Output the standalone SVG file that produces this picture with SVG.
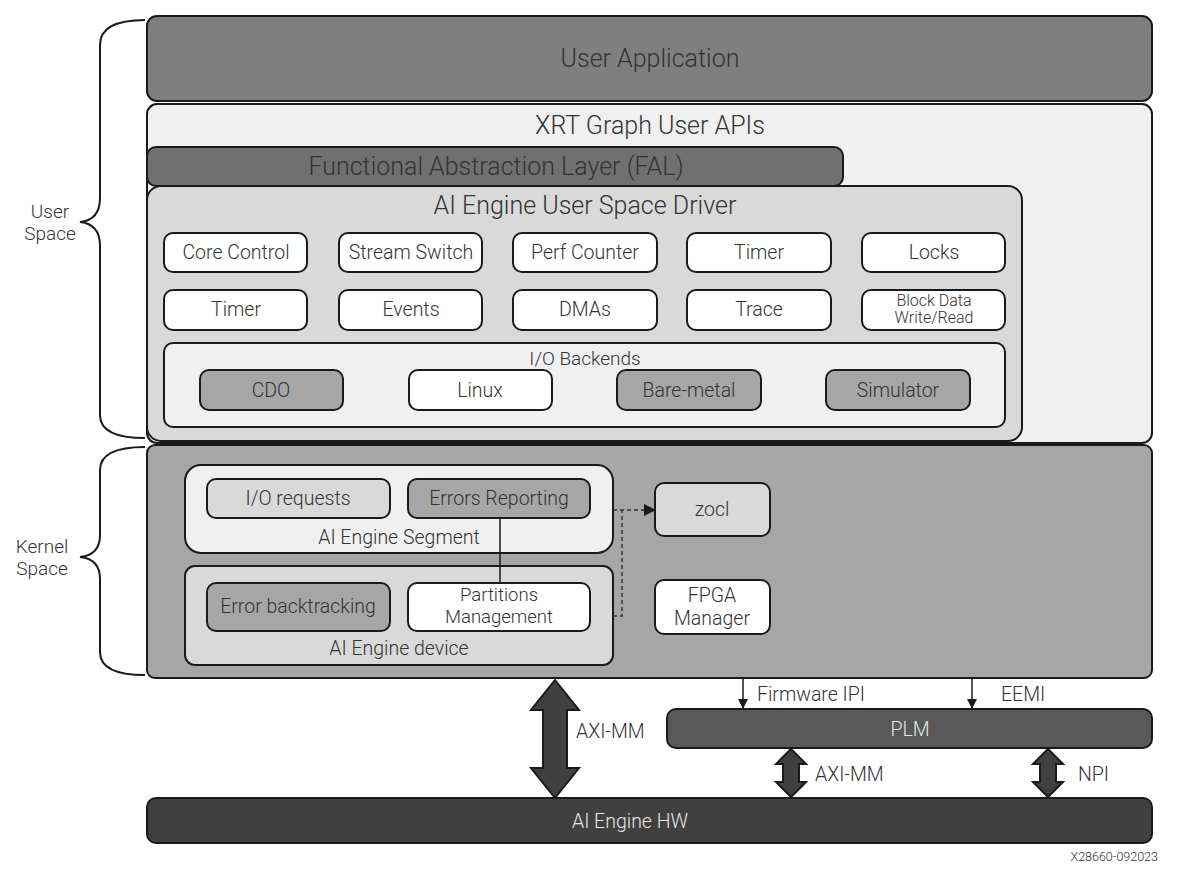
<svg xmlns="http://www.w3.org/2000/svg" width="1191" height="876" viewBox="0 0 1191 876">
<defs>
<style>
text{font-family:Roboto,"Liberation Sans",sans-serif;font-weight:300;fill:#333333;text-anchor:middle;dominant-baseline:central}
.b{stroke:#1a1a1a;stroke-width:2}
.w{fill:#ffffff}
.lg{fill:#d9d9d9}
.vl{fill:#f0f0f0}
.md{fill:#a6a6a6}
.dk{fill:#7f7f7f}
.t22{font-size:25px}
.t17{font-size:19.5px}
.t16{font-size:19px}
.lt{fill:#e6e6e6}
.br{fill:none;stroke:#1a1a1a;stroke-width:2}
</style>
<marker id="ah" markerWidth="10" markerHeight="10" refX="9" refY="5" orient="auto" markerUnits="userSpaceOnUse"><path d="M0,0 L10,5 L0,10 Z" fill="#1a1a1a"/></marker>
<marker id="ahs" markerWidth="12" markerHeight="12" refX="11" refY="6" orient="auto" markerUnits="userSpaceOnUse"><path d="M0,0 L12,6 L0,12 Z" fill="#1a1a1a"/></marker>
</defs>
<rect width="1191" height="876" fill="#ffffff"/>

<g id="braces">
<path class="br" d="M145,20 Q100,20 100,45 L100,198 Q100,220 80,222 Q100,224 100,246 L100,415 Q100,438 145,438"/>
<text x="50" y="222" dy="-11" style="font-size:19px">User</text>
<text x="50" y="222" dy="11" style="font-size:19px">Space</text>
<path class="br" d="M145,447 Q100,447 100,470 L100,535 Q100,555 80,557 Q100,559 100,579 L100,652 Q100,675 145,675"/>
<text x="42" y="557" dy="-11" style="font-size:19px">Kernel</text>
<text x="42" y="557" dy="11" style="font-size:19px">Space</text>
</g>

<g id="user-application"><rect class="b dk" x="147" y="16" width="1005" height="85" rx="10"/><text class="t22" x="650" y="58">User Application</text></g>
<g id="xrt-apis"><rect class="b vl" x="147" y="104" width="1005" height="339" rx="10"/><text class="t22" x="650" y="125">XRT Graph User APIs</text></g>
<g id="fal"><rect class="b" fill="#707070" x="147" y="147" width="696" height="39" rx="9"/><text class="t22" x="496" y="166">Functional Abstraction Layer (FAL)</text></g>
<g id="user-driver"><rect class="b lg" x="147" y="186" width="875" height="255" rx="14"/><text class="t22" x="585" y="205">AI Engine User Space Driver</text></g>

<g id="core-control"><rect class="b w" x="164" y="233" width="143" height="39" rx="9"/><text class="t17" x="236" y="252">Core Control</text></g>
<g id="stream-switch"><rect class="b w" x="339" y="233" width="143" height="39" rx="9"/><text class="t17" x="411" y="252">Stream Switch</text></g>
<g id="perf-counter"><rect class="b w" x="513" y="233" width="144" height="39" rx="9"/><text class="t17" x="585" y="252">Perf Counter</text></g>
<g id="timer1"><rect class="b w" x="687" y="233" width="144" height="39" rx="9"/><text class="t17" x="759" y="252">Timer</text></g>
<g id="locks"><rect class="b w" x="862" y="233" width="143" height="39" rx="9"/><text class="t17" x="934" y="252">Locks</text></g>

<g id="timer2"><rect class="b w" x="164" y="290" width="143" height="40" rx="9"/><text class="t17" x="236" y="309">Timer</text></g>
<g id="events"><rect class="b w" x="339" y="290" width="143" height="40" rx="9"/><text class="t17" x="411" y="309">Events</text></g>
<g id="dmas"><rect class="b w" x="513" y="290" width="144" height="40" rx="9"/><text class="t17" x="585" y="309">DMAs</text></g>
<g id="trace"><rect class="b w" x="687" y="290" width="144" height="40" rx="9"/><text class="t17" x="759" y="309">Trace</text></g>
<g id="block-data"><rect class="b w" x="862" y="290" width="143" height="40" rx="9"/><text x="934" y="300" style="font-size:16px">Block Data</text><text x="934" y="317" style="font-size:16px">Write/Read</text></g>

<g id="io-backends"><rect class="b vl" x="164" y="343" width="841" height="84" rx="9"/><text class="t16" x="585" y="358">I/O Backends</text></g>
<g id="cdo"><rect class="b md" x="200" y="370" width="143" height="40" rx="9"/><text class="t17" x="271" y="390">CDO</text></g>
<g id="linux"><rect class="b w" x="409" y="370" width="143" height="40" rx="9"/><text class="t17" x="480" y="390">Linux</text></g>
<g id="bare-metal"><rect class="b md" x="617" y="370" width="144" height="40" rx="9"/><text class="t17" x="689" y="390">Bare-metal</text></g>
<g id="simulator"><rect class="b md" x="826" y="370" width="144" height="40" rx="9"/><text class="t17" x="898" y="390">Simulator</text></g>

<g id="kernel"><rect class="b md" x="147" y="445" width="1005" height="233" rx="8"/></g>
<g id="ai-segment"><rect class="b vl" x="185" y="465" width="428" height="88" rx="16"/><text class="t17" x="399" y="537">AI Engine Segment</text></g>
<g id="io-requests"><rect class="b lg" x="207" y="479" width="183" height="39" rx="9"/><text class="t17" x="298" y="498">I/O requests</text></g>
<g id="errors-reporting"><rect class="b md" x="408" y="479" width="182" height="39" rx="9"/><text class="t17" x="499" y="498">Errors Reporting</text></g>
<g id="ai-device"><rect class="b lg" x="185" y="566" width="428" height="99" rx="10"/><text class="t17" x="399" y="648">AI Engine device</text></g>
<g id="error-backtracking"><rect class="b md" x="207" y="583" width="183" height="48" rx="9"/><text class="t17" x="298" y="606">Error backtracking</text></g>
<g id="partitions"><rect class="b w" x="408" y="583" width="182" height="48" rx="9"/><text x="499" y="595" style="font-size:18.5px">Partitions</text><text x="499" y="617" style="font-size:18.5px">Management</text></g>
<g id="zocl"><rect class="b lg" x="655" y="483" width="115" height="53" rx="9"/><text class="t17" x="712" y="509">zocl</text></g>
<g id="fpga-manager"><rect class="b w" x="655" y="580" width="115" height="54" rx="9"/><text class="t17" x="712" y="595">FPGA</text><text class="t17" x="712" y="618">Manager</text></g>

<g id="plm"><rect class="b" fill="#595959" x="667" y="709" width="485" height="39" rx="9"/><text class="t17 lt" x="910" y="729">PLM</text></g>
<g id="ai-hw"><rect class="b" fill="#404040" x="147" y="798" width="1005" height="45" rx="9"/><text class="t17 lt" x="630" y="821">AI Engine HW</text></g>

<g id="connectors">
<line x1="500" y1="518" x2="500" y2="583" stroke="#1a1a1a" stroke-width="1.5"/>
<path d="M613,510 L655,510" fill="none" stroke="#333" stroke-width="1.5" stroke-dasharray="4,3" marker-end="url(#ahs)"/>
<path d="M613,616 L622,616 L622,510" fill="none" stroke="#333" stroke-width="1.5" stroke-dasharray="4,3"/>
<line x1="743" y1="679" x2="743" y2="708" stroke="#1a1a1a" stroke-width="1.5" marker-end="url(#ah)"/>
<line x1="972" y1="679" x2="972" y2="708" stroke="#1a1a1a" stroke-width="1.5" marker-end="url(#ah)"/>
<path d="M555,680 L579,710 L567,710 L567,768 L579,768 L555,798 L531,768 L543,768 L543,710 L531,710 Z" fill="#404040" stroke="#1a1a1a" stroke-width="2"/>
<path d="M791,749 L806,764 L799,764 L799,782 L806,782 L791,797 L776,782 L783,782 L783,764 L776,764 Z" fill="#404040" stroke="#1a1a1a" stroke-width="2"/>
<path d="M1048,749 L1063,764 L1056,764 L1056,782 L1063,782 L1048,797 L1033,782 L1040,782 L1040,764 L1033,764 Z" fill="#404040" stroke="#1a1a1a" stroke-width="2"/>
<text class="t17" x="757" y="694" style="text-anchor:start">Firmware IPI</text>
<text class="t17" x="1001" y="694" style="text-anchor:start">EEMI</text>
<text class="t17" x="576" y="731" style="text-anchor:start">AXI-MM</text>
<text class="t17" x="815" y="774" style="text-anchor:start">AXI-MM</text>
<text class="t17" x="1078" y="774" style="text-anchor:start">NPI</text>
</g>
<text x="1158" y="856" style="font-size:12.5px;text-anchor:end">X28660-092023</text>
</svg>
